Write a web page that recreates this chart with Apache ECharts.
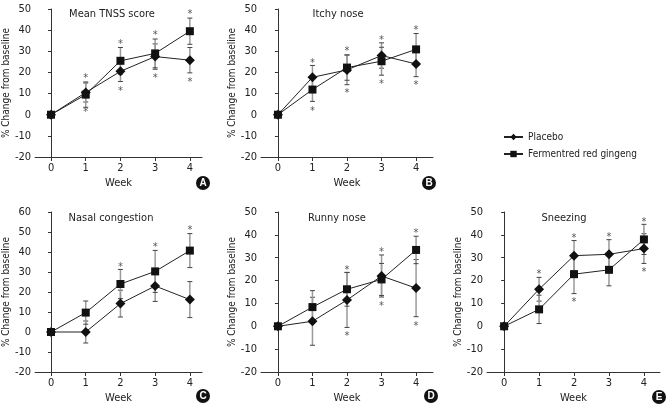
<!DOCTYPE html>
<html><head><meta charset="utf-8">
<script src="https://cdn.jsdelivr.net/npm/echarts@6/dist/echarts.min.js"></script>
<style>html,body{margin:0;padding:0;background:#fff}#c{width:666px;height:406px}</style>
</head><body><div id="c"></div>
<script>
const weeks = [0, 1, 2, 3, 4];
const weekLabels = ['0', '1', '2', '3', '4'];
const titles = ['Mean TNSS score', 'Itchy nose', 'Nasal congestion', 'Runny nose', 'Sneezing'];
const letters = ['A', 'B', 'C', 'D', 'E'];
const seriesNames = ['Placebo', 'Fermentred red gingeng'];

// Panel A: Mean TNSS score
const placeboA = [0, 10.5, 20.5, 27.5, 25.8];
const placeboErrA = [0, 4.5, 4.8, 6, 6];
const frgA = [0, 9.5, 25.5, 29, 39.5];
const frgErrA = [0, 6, 6.3, 6.8, 6.2];
const starUpA = [null, 18.5, 35, 39, 49];
const starDownA = [null, 2.4, 12.8, 18.8, 16.8];

// Panel B: Itchy nose
const placeboB = [0, 17.7, 21.2, 28, 24];
const placeboErrB = [0, 5.6, 7, 6, 6];
const frgB = [0, 11.9, 22.3, 25.3, 30.9];
const frgErrB = [0, 5.6, 6, 6.6, 7.5];
const starUpB = [null, 25.8, 31.3, 36.5, 41.3];
const starDownB = [null, 3.3, 11.5, 15.8, 15.2];

// Panel C: Nasal congestion
const placeboC = [0, 0, 14.2, 23, 16.2];
const placeboErrC = [0, 5.5, 6.7, 7.7, 9];
const frgC = [0, 9.7, 24, 30.3, 40.7];
const frgErrC = [0, 5.8, 7.3, 10.5, 8.5];
const starUpC = [null, null, 34, 43.8, 52.2];
const starDownC = [null, null, null, null, null];

// Panel D: Runny nose
const placeboD = [0, 2.2, 11.5, 22, 16.7];
const placeboErrD = [0, 10.5, 12, 9.2, 12.5];
const frgD = [0, 8.4, 16.2, 20.5, 33.4];
const frgErrD = [0, 7.2, 7.4, 7, 6];
const starUpD = [null, null, 25.7, 33.7, 42.2];
const starDownD = [null, null, -3.2, 10.3, 1.5];

// Panel E: Sneezing
const placeboE = [0, 16.2, 30.9, 31.5, 34];
const placeboErrE = [0, 5.2, 6.6, 6.4, 6.5];
const frgE = [0, 7.4, 22.8, 24.7, 38];
const frgErrE = [0, 6.2, 8.5, 7, 6.6];
const starUpE = [null, 24, 39.8, 40.5, 47];
const starDownE = [null, null, 12, null, 24.9];

const yMinAll = [-20, -20, -20, -20, -20];
const yMaxAll = [50, 50, 60, 50, 50];

const panels = [
  [placeboA, placeboErrA, frgA, frgErrA, starUpA, starDownA],
  [placeboB, placeboErrB, frgB, frgErrB, starUpB, starDownB],
  [placeboC, placeboErrC, frgC, frgErrC, starUpC, starDownC],
  [placeboD, placeboErrD, frgD, frgErrD, starUpD, starDownD],
  [placeboE, placeboErrE, frgE, frgErrE, starUpE, starDownE]
];

// layout (pixels)
const gridBoxes = [
  {left: 35, top: 9, width: 167, height: 148, xmin: -0.46, xmax: 4.35},
  {left: 261, top: 9, width: 172, height: 148, xmin: -0.49, xmax: 4.49},
  {left: 35, top: 212, width: 167, height: 160, xmin: -0.46, xmax: 4.35},
  {left: 261, top: 212, width: 172, height: 160, xmin: -0.49, xmax: 4.49},
  {left: 487, top: 212, width: 173, height: 160, xmin: -0.49, xmax: 4.46}
];
const titlePos = [[107, 4], [333, 4], [106, 208], [332, 208], [559, 208]];
const letterPos = [[203, 183], [429, 183], [203, 396], [431, 396], [659, 397]];

const FONT = "'DejaVu Sans Condensed', 'Liberation Sans Narrow', 'Liberation Sans', sans-serif";

const grid = [], xAxis = [], yAxis = [], series = [], title = [], graphic = [];

function errRender(params, api) {
  const x = api.value(0), lo = api.value(1), hi = api.value(2);
  const pHi = api.coord([x, hi]), pLo = api.coord([x, lo]);
  const cw = 2.5;
  return {type: 'group', children: [
    {type: 'line', shape: {x1: pHi[0], y1: pHi[1], x2: pLo[0], y2: pLo[1]}, style: {stroke: '#9a9a9a', lineWidth: 1.5}},
    {type: 'line', shape: {x1: pHi[0]-cw, y1: pHi[1], x2: pHi[0]+cw, y2: pHi[1]}, style: {stroke: '#444', lineWidth: 1}},
    {type: 'line', shape: {x1: pLo[0]-cw, y1: pLo[1], x2: pLo[0]+cw, y2: pLo[1]}, style: {stroke: '#444', lineWidth: 1}}
  ]};
}
function starRender(params, api) {
  const p = api.coord([api.value(0), api.value(1)]);
  return {type: 'text', x: p[0], y: p[1] + 3, style: {text: '*', fill: '#555', font: '11px ' + FONT, align: 'center', verticalAlign: 'middle'}};
}

panels.forEach((pd, i) => {
  const g = gridBoxes[i];
  grid.push({left: g.left, top: g.top, width: g.width, height: g.height, containLabel: false});
  xAxis.push({
    type: 'value', gridIndex: i, min: g.xmin, max: g.xmax,
    name: 'Week', nameLocation: 'middle', nameGap: 21,
    nameTextStyle: {fontFamily: FONT, fontSize: 11, color: '#222'},
    axisLine: {show: true, onZero: false, lineStyle: {color: '#333', width: 1}},
    axisTick: {show: true, length: 4, customValues: weeks, lineStyle: {color: '#333'}},
    axisLabel: {customValues: weeks, formatter: v => weekLabels[weeks.indexOf(v)], fontFamily: FONT, fontSize: 11, color: '#222', margin: 6},
    splitLine: {show: false}
  });
  yAxis.push({
    type: 'value', gridIndex: i, min: yMinAll[i], max: yMaxAll[i], interval: 10,
    name: '% Change from baseline', nameLocation: 'middle', nameGap: 18,
    nameTextStyle: {fontFamily: FONT, fontSize: 10, color: '#222'},
    axisLine: {show: true, lineStyle: {color: '#333', width: 1}},
    axisTick: {show: true, length: 3, lineStyle: {color: '#333'}},
    axisLabel: {fontFamily: FONT, fontSize: 11, color: '#222', margin: 4},
    splitLine: {show: false}
  });
  const [pl, plE, fr, frE, su, sd] = pd;
  const errData = [];
  weeks.forEach((w, k) => {
    if (k > 0) {
      errData.push([w, pl[k] - plE[k], pl[k] + plE[k]]);
      errData.push([w, fr[k] - frE[k], fr[k] + frE[k]]);
    }
  });
  series.push({type: 'custom', xAxisIndex: i, yAxisIndex: i, renderItem: errRender, data: errData, z: 1, silent: true});
  series.push({
    name: seriesNames[0], type: 'line', xAxisIndex: i, yAxisIndex: i,
    data: weeks.map((w, k) => [w, pl[k]]), symbol: 'diamond', symbolSize: 10,
    lineStyle: {color: '#222', width: 1}, itemStyle: {color: '#111'}, z: 3, animation: false
  });
  series.push({
    name: seriesNames[1], type: 'line', xAxisIndex: i, yAxisIndex: i,
    data: weeks.map((w, k) => [w, fr[k]]), symbol: 'rect', symbolSize: 8,
    lineStyle: {color: '#222', width: 1}, itemStyle: {color: '#111'}, z: 4, animation: false
  });
  const starData = [];
  weeks.forEach((w, k) => {
    if (su[k] !== null) starData.push([w, su[k]]);
    if (sd[k] !== null) starData.push([w, sd[k]]);
  });
  series.push({type: 'custom', xAxisIndex: i, yAxisIndex: i, renderItem: starRender, data: starData, z: 5, silent: true});
  title.push({text: titles[i], left: titlePos[i][0], top: titlePos[i][1], textAlign: 'center',
    textStyle: {fontFamily: FONT, fontSize: 11, fontWeight: 'normal', color: '#222'}});
  graphic.push({type: 'circle', shape: {cx: letterPos[i][0], cy: letterPos[i][1], r: 7}, style: {fill: '#111'}});
  graphic.push({type: 'text', x: letterPos[i][0], y: letterPos[i][1], style: {text: letters[i], fill: '#fff', font: 'bold 10px Arial, sans-serif', align: 'center', verticalAlign: 'middle'}});
});

const chart = echarts.init(document.getElementById('c'), null, {renderer: 'canvas'});
chart.setOption({
  animation: false,
  title, grid, xAxis, yAxis, series, graphic,
  legend: {
    data: seriesNames, orient: 'vertical', left: 498, top: 127, itemWidth: 19, itemHeight: 8, itemGap: 7,
    textStyle: {fontFamily: FONT, fontSize: 10, color: '#222'}
  }
});
</script></body></html>
